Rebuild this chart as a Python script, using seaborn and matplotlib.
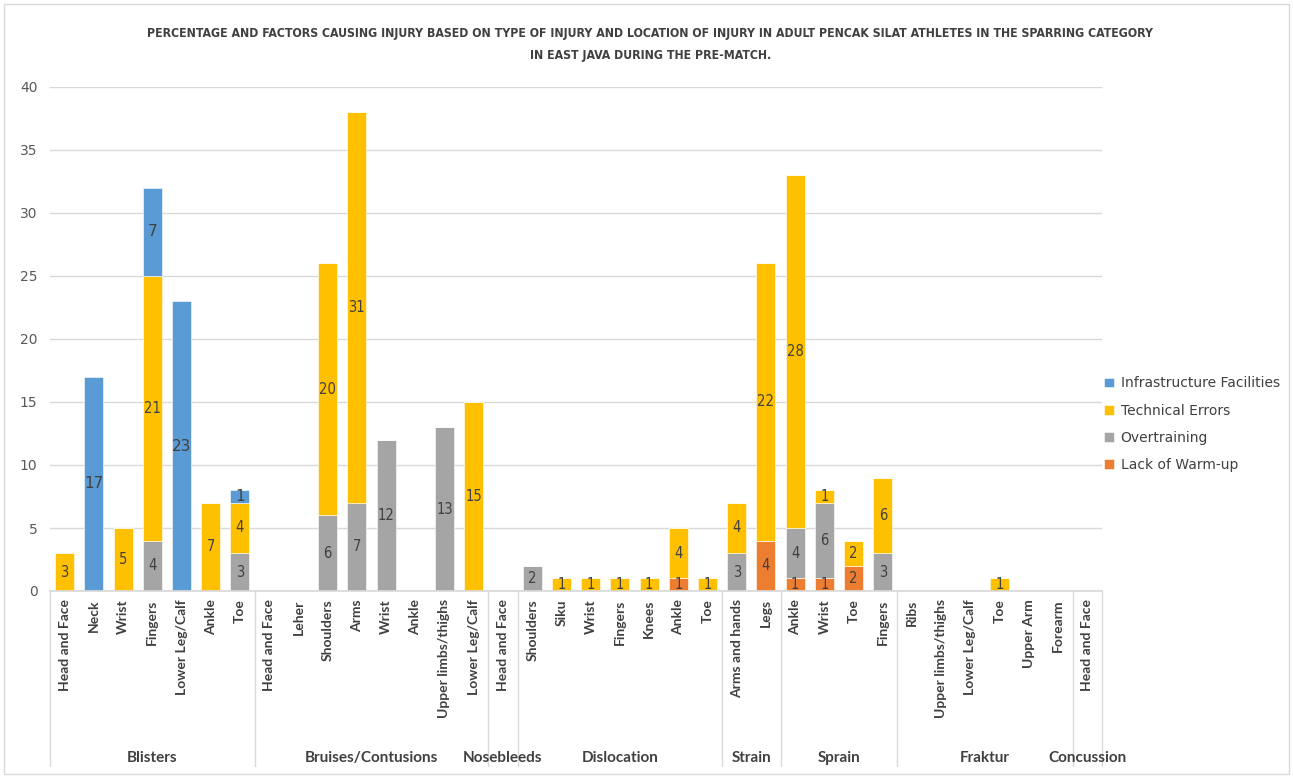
import numpy as np
import pandas as pd
import seaborn as sns
import matplotlib.pyplot as plt
import matplotlib.patches as mpatches
import matplotlib.transforms as mtrans
from matplotlib.colors import to_rgba

# injury type groups and how many locations each one spans
groups = ["Blisters", "Bruises/Contusions", "Nosebleeds", "Dislocation",
          "Strain", "Sprain", "Fraktur", "Concussion"]
group_sizes = [7, 8, 1, 7, 2, 4, 6, 1]

locations = [
    "Head and Face", "Neck", "Wrist", "Fingers", "Lower Leg/Calf", "Ankle", "Toe",
    "Head and Face", "Leher", "Shoulders", "Arms", "Wrist", "Ankle",
    "Upper limbs/thighs", "Lower Leg/Calf",
    "Head and Face",
    "Shoulders", "Siku", "Wrist", "Fingers", "Knees", "Ankle", "Toe",
    "Arms and hands", "Legs",
    "Ankle", "Wrist", "Toe", "Fingers",
    "Ribs", "Upper limbs/thighs", "Lower Leg/Calf", "Toe", "Upper Arm", "Forearm",
    "Head and Face",
]

infrastructure = [0, 17, 0, 7, 23, 0, 1,
                  0, 0, 0, 0, 0, 0, 0, 0,
                  0,
                  0, 0, 0, 0, 0, 0, 0,
                  0, 0,
                  0, 0, 0, 0,
                  0, 0, 0, 0, 0, 0,
                  0]
technical = [3, 0, 5, 21, 0, 7, 4,
             0, 0, 20, 31, 0, 0, 0, 15,
             0,
             0, 1, 1, 1, 1, 4, 1,
             4, 22,
             28, 1, 2, 6,
             0, 0, 0, 1, 0, 0,
             0]
overtraining = [0, 0, 0, 4, 0, 0, 3,
                0, 0, 6, 7, 12, 0, 13, 0,
                0,
                2, 0, 0, 0, 0, 0, 0,
                3, 0,
                4, 6, 0, 3,
                0, 0, 0, 0, 0, 0,
                0]
warmup = [0, 0, 0, 0, 0, 0, 0,
          0, 0, 0, 0, 0, 0, 0, 0,
          0,
          0, 0, 0, 0, 0, 1, 0,
          0, 4,
          1, 1, 2, 0,
          0, 0, 0, 0, 0, 0,
          0]

factors = ["Infrastructure Facilities", "Technical Errors", "Overtraining", "Lack of Warm-up"]
colors = {"Infrastructure Facilities": "#5B9BD5", "Technical Errors": "#FFC000",
          "Overtraining": "#A5A5A5", "Lack of Warm-up": "#ED7D31"}

title = ("PERCENTAGE AND FACTORS CAUSING INJURY BASED ON TYPE OF INJURY AND LOCATION OF INJURY "
         "IN ADULT PENCAK SILAT ATHLETES IN THE SPARRING CATEGORY\nIN EAST JAVA DURING THE PRE-MATCH.")

pos = np.arange(len(locations))
df = pd.concat([
    pd.DataFrame({"pos": pos, "factor": f, "value": v})
    for f, v in zip(factors, [infrastructure, technical, overtraining, warmup])
], ignore_index=True)

sns.set_theme(style="white")
narrow = dict(family="DejaVu Sans", fontstretch="condensed")

fig = plt.figure(figsize=(12.93, 7.76), dpi=100)
ax = fig.add_axes([50 / 1293, 1 - 591 / 776, 1052 / 1293, 504 / 776])

sns.histplot(data=df, x="pos", weights="value", hue="factor", hue_order=factors,
             palette=colors, multiple="stack", discrete=True, shrink=0.65,
             alpha=1, edgecolor="white", linewidth=0.4, ax=ax)

# value labels in the middle of each segment
for c in ax.containers:
    heights = [b.get_height() for b in c]
    labels = [f"{h:g}" if h > 0 else "" for h in heights]
    is_blue = np.allclose(c.patches[0].get_facecolor(), to_rgba(colors["Infrastructure Facilities"]))
    if is_blue:
        ax.bar_label(c, labels=labels, label_type="center", color="#404040", fontsize=11)
    else:
        ax.bar_label(c, labels=labels, label_type="center", color="#404040",
                     fontsize=10.5, **narrow)

ax.set_xlim(-0.5, len(locations) - 0.5)
ax.set_ylim(0, 40)
ax.set_yticks(range(0, 41, 5))
ax.yaxis.grid(True, color="#D9D9D9", linewidth=1)
ax.set_axisbelow(True)
ax.set_xlabel("")
ax.set_ylabel("")
for s in ["top", "right", "left"]:
    ax.spines[s].set_visible(False)
ax.spines["bottom"].set_color("#D9D9D9")
ax.tick_params(axis="y", length=0, pad=9, labelsize=10, labelcolor="#595959")
ax.set_xticks(pos)
ax.set_xticklabels(locations, rotation=90, fontsize=10, fontweight="bold",
                   color="#404040", family=["Lato", "DejaVu Sans"])
ax.tick_params(axis="x", length=0, pad=6)

# multi-level category axis: separators and group names
trans = mtrans.blended_transform_factory(ax.transData, ax.transAxes)
depth = -(766 - 591) / 504
edges = np.concatenate([[0], np.cumsum(group_sizes)]) - 0.5
for e in edges:
    ax.plot([e, e], [0, depth], transform=trans, color="#D9D9D9", lw=1, clip_on=False)
for g, a, b in zip(groups, edges[:-1], edges[1:]):
    ax.text((a + b) / 2, -(758 - 591) / 504, g, transform=trans, ha="center", va="center",
            fontsize=11, fontweight="bold", color="#404040", family=["Lato", "DejaVu Sans"])

sns.move_legend(ax, loc="center left", bbox_to_anchor=(0.99, 0.331), frameon=False,
                title=None, fontsize=10, handlelength=0.7, handleheight=0.7,
                labelspacing=0.95, handletextpad=0.5, labelcolor="#404040")

t = fig.text(0.503, 1 - 44.5 / 776, title, ha="center", va="center", fontsize=12,
             fontweight="bold", color="#404040", linespacing=1.8, **narrow)
# fit the long title line to the width it has in the original
renderer = fig.canvas.get_renderer()
w = t.get_window_extent(renderer).width
t.set_fontsize(12 * 1010 / w)

fig.patches.append(mpatches.Rectangle((0.003, 0.002), 0.994, 0.993, transform=fig.transFigure,
                                      fill=False, edgecolor="#D9D9D9", linewidth=1))

fig.savefig("out.png", dpi=100)
